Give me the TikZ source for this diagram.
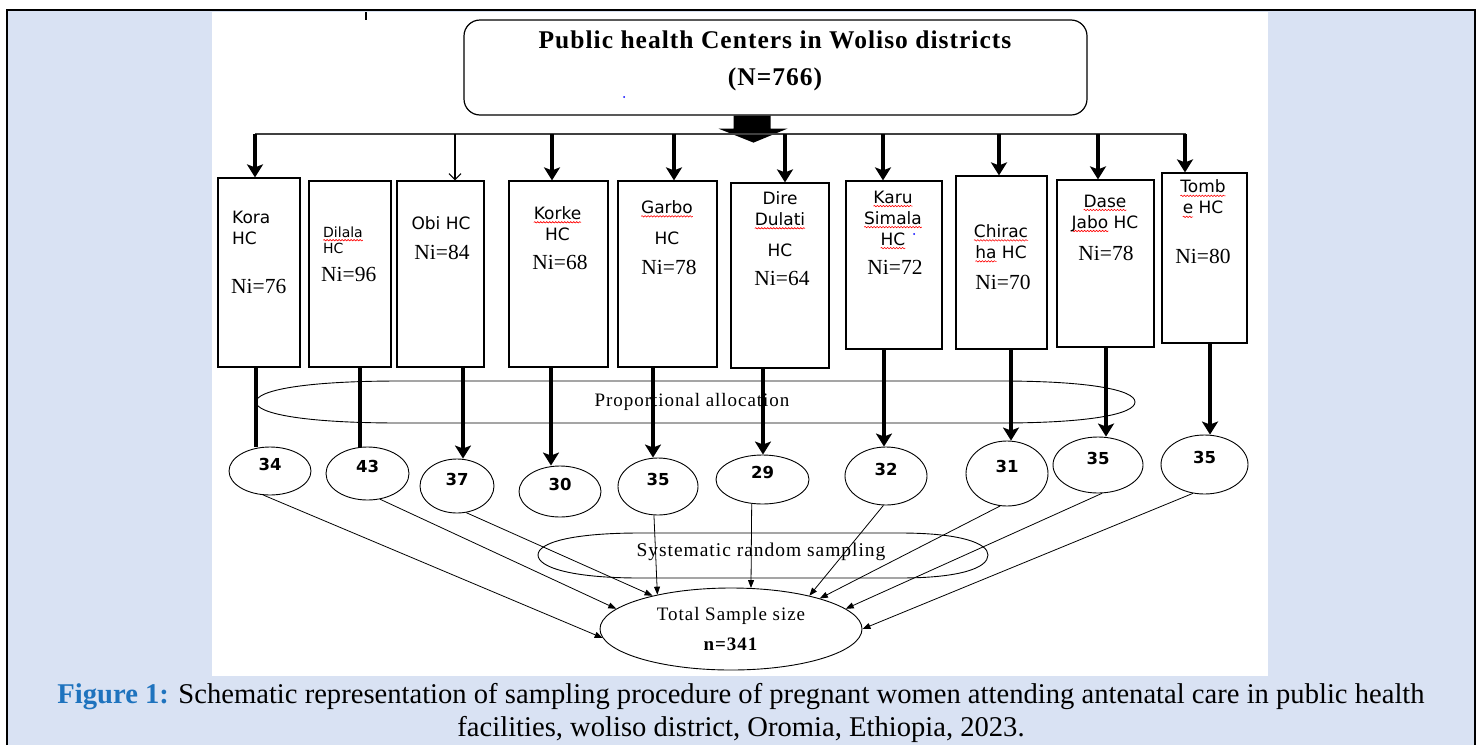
\documentclass[tikz,border=0pt]{standalone}
\usepackage{fontspec}
\setmainfont{Liberation Serif}
\newfontfamily\boxsf{DejaVu Sans}
\newfontfamily\wordserif[LetterSpace=5]{Liberation Serif}
\newfontfamily\titleserif[LetterSpace=4]{Liberation Serif}
\usetikzlibrary{arrows.meta,shapes.geometric,positioning,decorations.pathmorphing}
\definecolor{panelblue}{RGB}{217,226,243}
\definecolor{capblue}{RGB}{30,115,190}
% red spell-check squiggle
\newcommand\redsq[1]{\setbox0\hbox{#1}\leavevmode\rlap{\tikz[overlay,baseline=0pt]\draw[red, line width=0.6pt,
    decorate, decoration={snake, amplitude=0.7pt, segment length=3pt}] (0pt,-3pt) -- (\wd0,-3pt);}\box0\relax}

\begin{document}
\begin{tikzpicture}[x=1pt,y=-1pt,
    hcbox/.style={draw, line width=1.2pt, inner sep=0pt},
    hclbl/.style={font=\boxsf\fontsize{17}{21}\selectfont, align=center, inner sep=0pt},
    hcsmall/.style={font=\boxsf\fontsize{14}{16}\selectfont, align=left, inner sep=0pt},
    nilbl/.style={font=\fontsize{21.5}{24}\selectfont, inner sep=0pt},
    numnode/.style={draw, ellipse, line width=0.9pt, inner sep=0pt, text depth=14pt,
        font=\boxsf\bfseries\fontsize{16.5}{18}\selectfont},
    ovalline/.style={line width=0.9pt},
    thickarr/.style={line width=3.1pt, -{Stealth[length=13pt,width=16pt,inset=3pt]}},
    thinarr/.style={line width=1.1pt, -{Straight Barb[length=6pt,width=12pt]}},
    smallarr/.style={line width=0.8pt, -{Triangle[length=8pt,width=6pt]}}]
    \useasboundingbox (0,0) rectangle (1478,745);
    % panel and frame
    \fill[panelblue] (8,11) rectangle (1474,745);
    \fill[white] (212,12) rectangle (1268,676);
    \draw[line width=2pt] (7,745) -- (7,10) -- (1475,10) -- (1475,745);
    \draw[line width=2.5pt] (366,12) -- (366,20);

    % top box
    \node[draw, line width=1.2pt, rounded corners=16pt, minimum width=623, minimum height=95] (hcs) at (775.5,67.5) {};
    \node[font=\titleserif\bfseries\fontsize{25.5}{37}\selectfont, align=center, inner sep=0pt] (hcstxt) at (775,61)
        {Public health Centers in Woliso districts\\(N=766)};
    \fill[blue] (624,97) circle (1pt);
    \fill ([xshift=-42]hcs.south) -- ++(37,0) -- ++(0,13) -- ++(17,0) -- ++(-34,14) -- ++(-35,-14) -- ++(15,0) -- cycle;

    % health center boxes
    \foreach \nm/\xa/\ya/\xb/\yb in {kora/218/178/300/367, dilala/309/181/391/367, obi/397/181/484/367,
        korke/509/181/608/367, garbo/618/181/717/367, dire/731/183/829/368, karu/846/181/942/349,
        chiracha/956/176/1047/349, dase/1057/180/1154/347, tombe/1162/173/1247/343}
        \node[hcbox, minimum width={\xb-\xa}, minimum height={\yb-\ya}] (\nm) at ({(\xa+\xb)/2},{(\ya+\yb)/2}) {};

    \node[hclbl, align=left, anchor=west] (lkora) at (232,227.5) {Kora\\HC};
    \node[hcsmall, anchor=west] (ldilala) at (323,240) {\redsq{Dilala}\\HC};
    \node[hclbl] (lobi) at (441,223) {Obi HC};
    \node[hclbl] (lkorke) at (557.5,223.5) {\redsq{Korke}\\HC};
    \node[hclbl] (lgarbo) at (667,222.5) {\redsq{Garbo}\\[10pt]HC};
    \node[hclbl] (ldire) at (780,224) {Dire\\\redsq{Dulati}\\[10pt]HC};
    \node[hclbl] (lkaru) at (893,218) {\redsq{Karu}\\\redsq{Simala}\\\redsq{HC}};
    \fill[blue] (914,234) circle (1pt);
    \node[hclbl] (lchiracha) at (1001,241.5) {\redsq{Chirac}\\\redsq{ha} HC};
    \node[hclbl] (ldase) at (1105,213) {\redsq{Dase}\\\redsq{Jabo} HC};
    \node[hclbl] (ltombe) at (1203,197) {\redsq{Tomb}\\\redsq{e} HC};

    \node[nilbl, anchor=west] (nkora) at (231,286) {Ni=76};
    \node[nilbl, anchor=west] (ndilala) at (321,274) {Ni=96};
    \foreach \nm/\nx/\ny/\nv in {obi/442/252/84, korke/560/262/68, garbo/669/267/78, dire/782/278/64,
        karu/895/267/72, chiracha/1003/282/70, dase/1106/253/78, tombe/1203/256/80}
        \node[nilbl] (n\nm) at (\nx,\ny) {Ni=\nv};

    % distribution line and arrows into the boxes
    \coordinate (busL) at (255,134);
    \coordinate (busR) at (1186,134);
    \draw[line width=1.8pt, black!75] (busL) -- (busR);
    \foreach \nm/\ax in {kora/255, korke/552, garbo/674, dire/785, karu/883, chiracha/999, dase/1098, tombe/1185}
        \draw[thickarr] (busL -| \ax,0) -- (\nm.north -| \ax,0);
    \draw[thinarr] (busL -| 455,0) -- (obi.north -| 455,0);

    % proportional allocation
    \node[font=\wordserif\fontsize{19}{20}\selectfont, inner sep=0pt] (alloc) at (692,402) {Proportional allocation};
    \draw[ovalline] (400,381) -- (1000,381) .. controls (1090,381) and (1135,390) .. (1135,402)
        .. controls (1135,414) and (1090,423) .. (1000,423) -- (400,423)
        .. controls (300,423) and (256,413) .. (256,402) .. controls (256,391) and (300,381) .. (400,381) -- cycle;

    % samples per health center
    \foreach \nm/\cx/\cy/\w/\h/\v in {c34/270/471/82/48/34, c43/367.5/473.5/83/53/43, c37/457/486/74/54/37,
        c30/560/491.5/82/51/30, c35a/658/486.5/80/57/35, c29/762.5/479.5/93/49/29, c32/886/476/82/58/32,
        c31/1007/473.5/82/65/31, c35b/1098/465/90/56/35, c35c/1204.5/464.5/87/59/35}
        \node[numnode, minimum width=\w, minimum height=\h] (\nm) at (\cx,\cy) {\v};

    \foreach \bx/\cn/\sx in {kora/c34/256, dilala/c43/360}
        \draw[line width=3.1pt] (\bx.south -| \sx,0) -- (\cn.north -| \sx,0);
    \foreach \bx/\cn/\sx in {obi/c37/463, korke/c30/551, garbo/c35a/653, dire/c29/763, karu/c32/884,
        chiracha/c31/1011, dase/c35b/1106, tombe/c35c/1210}
        \draw[thickarr] (\bx.south -| \sx,0) -- (\cn.north -| \sx,0);

    % systematic sampling and total
    \node[font=\wordserif\fontsize{19.5}{21}\selectfont, inner sep=0pt] (sys) at (761,552) {Systematic random sampling};
    \draw[ovalline] (640,533) -- (900,533) .. controls (960,533) and (988,543) .. (988,555)
        .. controls (988,568) and (960,578) .. (900,578) -- (640,578)
        .. controls (570,578) and (538,567) .. (538,555) .. controls (538,543) and (570,533) .. (640,533) -- cycle;
    \node[draw, ellipse, ovalline, inner sep=0pt, minimum width=262, minimum height=82, align=center,
        font=\wordserif\fontsize{19}{30}\selectfont] (total) at (731,629) {Total Sample size\\\textbf{n=341}};

    \draw[smallarr] (c34.-105) -- (total.184);
    \draw[smallarr] (c43.-64) -- (total.170);
    \draw[smallarr] (c37.-71) -- (total.157);
    \draw[smallarr] (c35a.-98) -- (total.155);
    \draw[smallarr] (c29.-114) -- (total.64);
    \draw[smallarr] (c32.-95) -- (total.23);
    \draw[smallarr] (c31.-102) -- (total.19);
    \draw[smallarr] (c35b.-82) -- (total.10);
    \draw[smallarr] (c35c.-112) -- (total.0);

    % caption
    \node[font=\fontsize{28.6}{33}\selectfont, align=center, inner sep=0pt] (caption) at (741,713)
        {\textcolor{capblue}{\textbf{Figure 1:}} Schematic representation of sampling procedure of pregnant women attending antenatal care in public health\\facilities, woliso district, Oromia, Ethiopia, 2023.};
\end{tikzpicture}
\end{document}
